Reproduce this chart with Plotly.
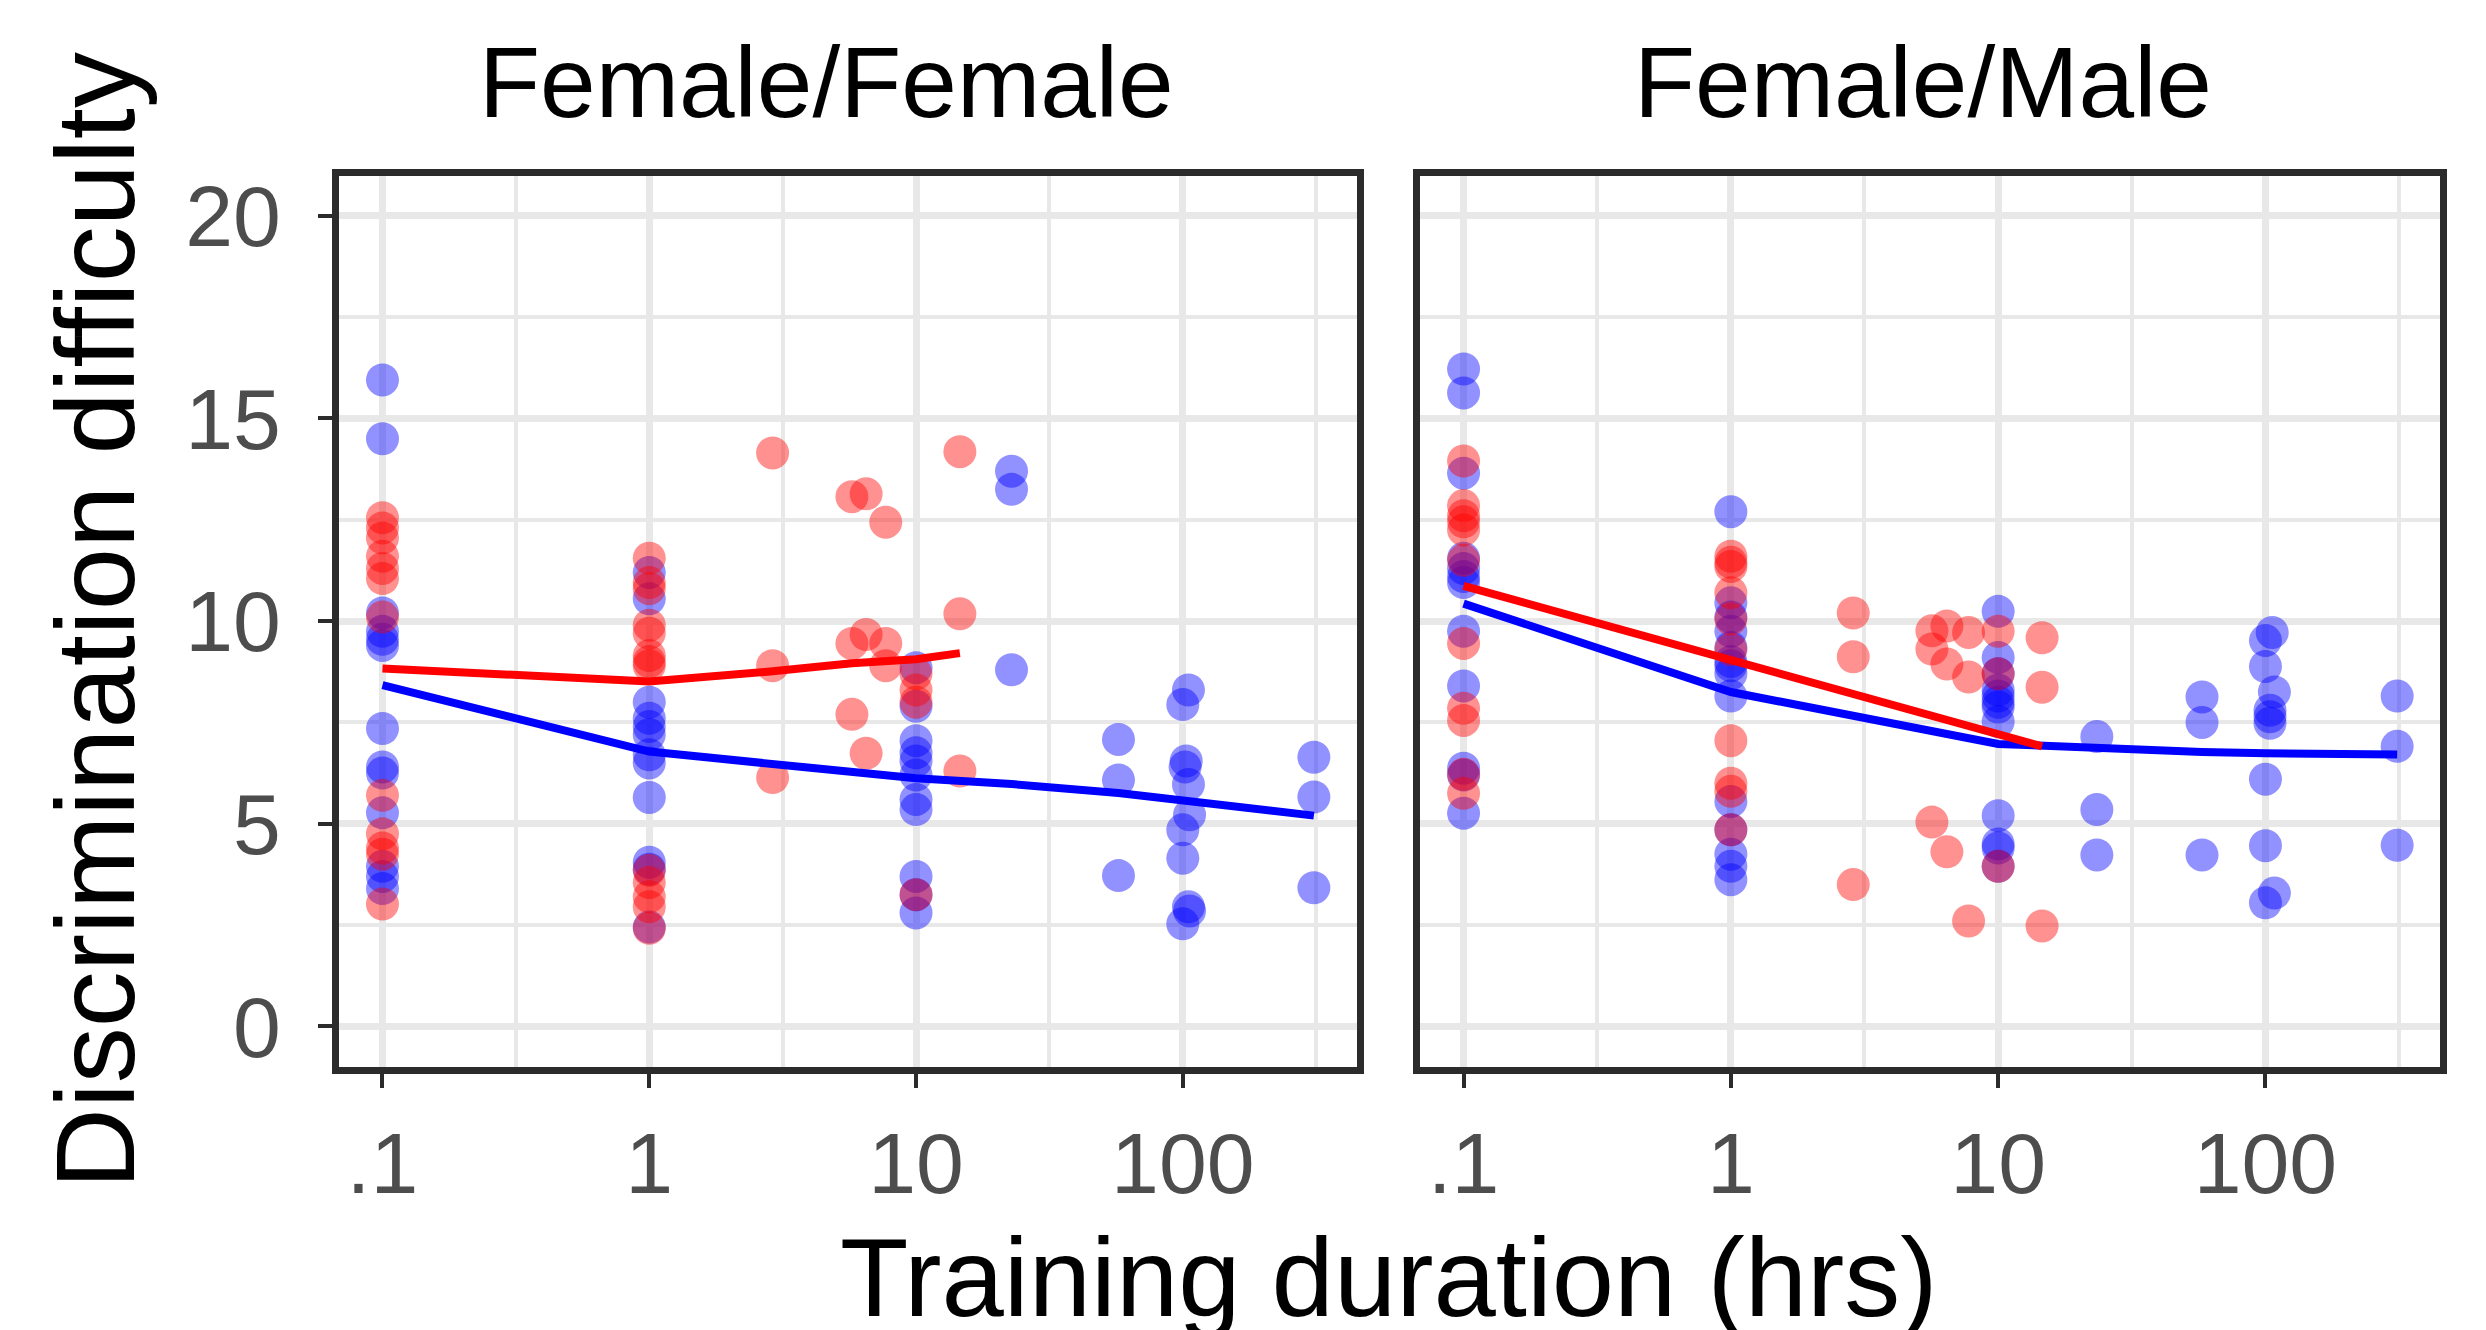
import plotly.graph_objects as go

# ---------------- data ----------------
# Female/Female panel
ff_blue_x = [0.1]*13 + [1]*12 + [10]*11 + [22.8]*3 + [57.4]*3 + \
            [105, 100, 103, 102, 105, 106, 100, 100, 105, 106, 100] + [310]*3
ff_blue_y = [15.95, 14.5, 10.2, 9.75, 9.55, 9.4, 7.35, 6.4, 6.25, 5.27, 3.95, 3.7, 3.4,
             11.2, 10.55, 8.0, 7.6, 7.4, 7.2, 6.7, 6.5, 5.65, 4.05, 3.88, 2.45,
             8.85, 7.9, 7.05, 6.75, 6.55, 6.2, 5.6, 5.35, 3.7, 3.25, 2.8,
             13.7, 13.25, 8.8,
             7.08, 6.08, 3.72,
             8.3, 7.94, 6.55, 6.4, 5.97, 5.22, 4.85, 4.15, 2.95, 2.85, 2.53,
             6.64, 5.66, 3.42]
ff_red_x = [0.1]*12 + [1]*13 + [2.9]*3 + [5.75]*3 + [6.5]*3 + [7.7]*3 + [10]*4 + [14.6]*3
ff_red_y = [12.55, 12.3, 12.05, 11.6, 11.3, 11.05, 10.1, 5.7, 4.75, 4.4, 4.25, 3.02,
            11.55, 10.95, 10.8, 9.9, 9.7, 9.15, 9.0, 8.9, 3.85, 3.55, 3.2, 2.95, 2.42,
            14.15, 8.9, 6.14,
            13.07, 9.45, 7.7,
            13.14, 9.67, 6.74,
            12.44, 9.45, 8.9,
            8.7, 8.3, 8.0, 3.25,
            14.18, 10.18, 6.3]
ff_blue_fit_x = [0.1, 1, 10, 22.8, 57.4, 100, 310]
ff_blue_fit_y = [8.42, 6.78, 6.12, 5.98, 5.76, 5.57, 5.2]
ff_red_fit_x = [0.1, 1, 2.9, 5.75, 10, 14.6]
ff_red_fit_y = [8.83, 8.51, 8.76, 8.96, 9.06, 9.21]

# Female/Male panel
fm_blue_x = [0.1]*12 + [1]*14 + [10]*12 + [23.4]*3 + [57.9]*3 + \
            [106, 100, 100, 108, 104, 104, 104, 100, 100, 108, 100] + [311]*3
fm_blue_y = [16.22, 15.63, 13.65, 11.55, 11.3, 11.1, 10.95, 9.75, 8.4, 6.37, 6.2, 5.26,
             12.7, 10.45, 10.1, 9.75, 9.35, 9.0, 8.9, 8.7, 8.15, 5.55, 4.85, 4.25, 3.95, 3.62,
             10.24, 9.1, 8.7, 8.3, 8.15, 8.0, 7.88, 7.52, 5.2, 4.5, 4.4, 3.95,
             7.15, 5.35, 4.23,
             8.13, 7.5, 4.23,
             9.72, 9.52, 8.88, 8.25, 7.8, 7.64, 7.48, 6.1, 4.46, 3.29, 3.05,
             8.15, 6.91, 4.47]
fm_red_x = [0.1]*11 + [1]*10 + [2.87]*3 + [5.65]*3 + [6.43]*3 + [7.75]*3 + [10]*3 + [14.6]*3
fm_red_y = [13.95, 12.85, 12.6, 12.45, 12.25, 11.5, 9.45, 7.85, 7.55, 6.22, 5.75,
            11.6, 11.45, 11.35, 10.7, 10.05, 9.3, 7.05, 6.0, 5.8, 4.85,
            10.2, 9.12, 3.5,
            9.76, 9.31, 5.04,
            9.88, 8.94, 4.31,
            9.72, 8.62, 2.6,
            9.75, 8.7, 3.95,
            9.59, 8.37, 2.48]
fm_blue_fit_x = [0.1, 1, 10, 23.4, 57.9, 100, 311]
fm_blue_fit_y = [10.43, 8.25, 6.97, 6.85, 6.77, 6.74, 6.71]
fm_red_fit_x = [0.1, 1, 10, 14.6]
fm_red_fit_y = [10.87, 9.06, 7.22, 6.91]

panel_titles = ["Female/Female", "Female/Male"]
x_tickvals = [0.1, 1, 10, 100]
x_ticktext = [".1", "1", "10", "100"]
x_minor = [0.316, 3.16, 31.6, 316]
y_tickvals = [0, 5, 10, 15, 20]
y_minor = [2.5, 7.5, 12.5, 17.5]

# ---------------- figure ----------------
W, H = 2486, 1330
FONT = "Liberation Sans, Arial, Helvetica, sans-serif"
BLUE, RED = "#0000FF", "#FF0000"
PT_BLUE, PT_RED = "rgba(0,0,255,0.43)", "rgba(255,0,0,0.43)"
MS = 33
LW = 8

fig = go.Figure()
series = [
    ("x", "y", ff_blue_x, ff_blue_y, ff_red_x, ff_red_y,
     ff_blue_fit_x, ff_blue_fit_y, ff_red_fit_x, ff_red_fit_y),
    ("x2", "y2", fm_blue_x, fm_blue_y, fm_red_x, fm_red_y,
     fm_blue_fit_x, fm_blue_fit_y, fm_red_fit_x, fm_red_fit_y),
]
for xa, ya, bx, by, rx, ry, bfx, bfy, rfx, rfy in series:
    fig.add_trace(go.Scatter(x=bx, y=by, mode="markers", xaxis=xa, yaxis=ya,
                             marker=dict(size=MS, color=PT_BLUE, line=dict(width=0)),
                             showlegend=False, hoverinfo="skip"))
    fig.add_trace(go.Scatter(x=rx, y=ry, mode="markers", xaxis=xa, yaxis=ya,
                             marker=dict(size=MS, color=PT_RED, line=dict(width=0)),
                             showlegend=False, hoverinfo="skip"))
    fig.add_trace(go.Scatter(x=bfx, y=bfy, mode="lines", xaxis=xa, yaxis=ya,
                             line=dict(color=BLUE, width=LW),
                             showlegend=False, hoverinfo="skip"))
    fig.add_trace(go.Scatter(x=rfx, y=rfy, mode="lines", xaxis=xa, yaxis=ya,
                             line=dict(color=RED, width=LW),
                             showlegend=False, hoverinfo="skip"))

GRID = "#E8E8E8"
BORDER = "#2B2B2B"
TICKC = "#4D4D4D"
TICKFS = 86

xcommon = dict(type="log", range=[-1.163, 2.653], tickmode="array",
               tickvals=x_tickvals, ticktext=x_ticktext,
               ticks="outside", ticklen=14, tickwidth=4, tickcolor=BORDER,
               showline=True, mirror=True, linecolor=BORDER, linewidth=7,
               showgrid=True, gridcolor=GRID, gridwidth=6.5, zeroline=False,
               minor=dict(tickmode="array", tickvals=x_minor, showgrid=True,
                          gridcolor=GRID, gridwidth=3.5, ticks=""),
               tickfont=dict(family=FONT, size=TICKFS, color=TICKC),
               ticklabelstandoff=2)
ycommon = dict(range=[-1.0, 20.98], tickmode="array", tickvals=y_tickvals,
               showline=True, mirror=True, linecolor=BORDER, linewidth=7,
               showgrid=True, gridcolor=GRID, gridwidth=6.5, zeroline=False,
               minor=dict(tickmode="array", tickvals=y_minor, showgrid=True,
                          gridcolor=GRID, gridwidth=3.5, ticks=""),
               domain=[1 - 1071 / H, 1 - 170 / H])

fig.update_layout(
    width=W, height=H,
    margin=dict(l=0, r=0, t=0, b=0),
    paper_bgcolor="white", plot_bgcolor="white",
    font=dict(family=FONT),
    xaxis=dict(domain=[339 / W, 1357 / W], anchor="y", **xcommon),
    xaxis2=dict(domain=[1420 / W, 2440 / W], anchor="y2", **xcommon),
    yaxis=dict(anchor="x", ticks="outside", ticklen=14, tickwidth=4, tickcolor=BORDER,
               tickfont=dict(family=FONT, size=TICKFS, color=TICKC),
               ticklabelstandoff=20, **ycommon),
    yaxis2=dict(anchor="x2", showticklabels=False, ticks="", **ycommon),
)

annotations = []
for title, cx in zip(panel_titles, [826, 1923]):
    annotations.append(dict(text=title, xref="paper", yref="paper",
                            x=cx / W, y=1 - 16 / H, xanchor="center", yanchor="top",
                            showarrow=False,
                            font=dict(family=FONT, size=100, color="black")))
annotations.append(dict(text="Training duration (hrs)", xref="paper", yref="paper",
                        x=1389 / W, y=1 - 1219 / H, xanchor="center", yanchor="top",
                        showarrow=False, font=dict(family=FONT, size=112, color="black")))
annotations.append(dict(text="Discrimination difficulty", xref="paper", yref="paper",
                        x=95 / W, y=1 - 620 / H, xanchor="center", yanchor="middle",
                        textangle=-90, showarrow=False,
                        font=dict(family=FONT, size=112, color="black")))
fig.update_layout(annotations=annotations)

fig.write_html("out.html")
